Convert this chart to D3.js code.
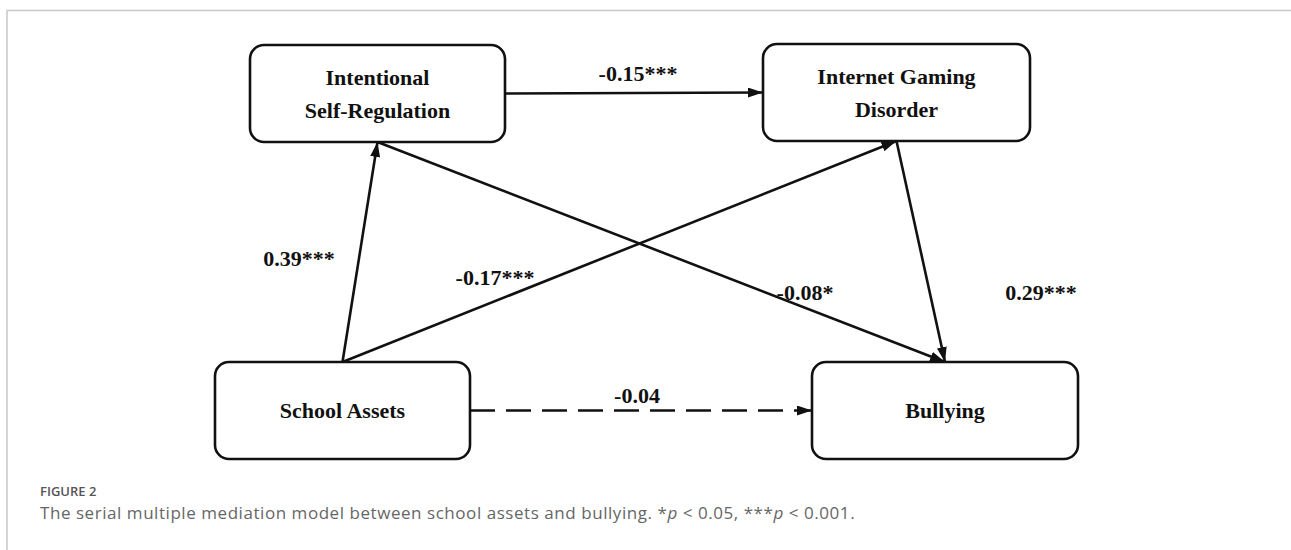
<!DOCTYPE html>
<html lang="en">
<head>
<meta charset="UTF-8">
<title>Serial mediation model</title>
<script src="https://d3js.org/d3.v7.min.js"></script>
<style>
  body { margin: 0; background: #fff; }
</style>
</head>
<body>
<svg id="chart" width="1291" height="550"></svg>
<script>
// variables in the model
const nodeIds = ["isr", "igd", "sa", "bul"];
const nodeLines = [["Intentional", "Self-Regulation"], ["Internet Gaming", "Disorder"], ["School Assets"], ["Bullying"]];

// paths: from, to, coefficient, significance, dashed?
const pathFrom = ["isr", "sa", "sa", "isr", "igd", "sa"];
const pathTo = ["igd", "isr", "igd", "bul", "bul", "bul"];
const pathCoef = ["-0.15", "0.39", "-0.17", "-0.08", "0.29", "-0.04"];
const pathStars = ["***", "***", "***", "*", "***", ""];
const pathDashed = [false, false, false, false, false, true];

const captionTitle = "FIGURE 2";
const captionText = "The serial multiple mediation model between school assets and bullying. ";

// layout (pixel positions of the boxes)
const box = {
  isr: { x0: 250, x1: 505, y0: 45, y1: 142 },
  igd: { x0: 763, x1: 1030, y0: 44, y1: 141 },
  sa: { x0: 215, x1: 470, y0: 362, y1: 459 },
  bul: { x0: 812, x1: 1078, y0: 362, y1: 459 }
};
// where each path label sits (centre x, baseline y)
const labelPos = [[638, 81], [299, 266], [495, 285], [805, 300], [1041, 300], [637, 403]];

const svg = d3.select("#chart");

// frame
svg.append("path")
  .attr("d", "M7,550 L7,10.5 L1291,10.5")
  .attr("fill", "none")
  .attr("stroke", "#c8c8c8")
  .attr("stroke-width", 1.5);

const defs = svg.append("defs");
defs.append("marker")
  .attr("id", "arrow")
  .attr("viewBox", "0 0 15 10")
  .attr("refX", 15)
  .attr("refY", 5)
  .attr("markerWidth", 15)
  .attr("markerHeight", 10)
  .attr("markerUnits", "userSpaceOnUse")
  .attr("orient", "auto")
  .append("path")
  .attr("d", "M0,0 L15,5 L0,10 Z")
  .attr("fill", "#111");

// anchor points on boxes for each path
function anchor(id, toward) {
  const b = box[id];
  const cx = (b.x0 + b.x1) / 2, cy = (b.y0 + b.y1) / 2;
  if (toward === "right") return [b.x1, cy];
  if (toward === "left") return [b.x0, cy];
  if (toward === "top") return [cx, b.y0];
  return [cx, b.y1];
}

const paths = pathFrom.map((f, i) => {
  const t = pathTo[i];
  const sameRow = (box[f].y0 < 200) === (box[t].y0 < 200);
  let p0, p1;
  if (sameRow) {
    p0 = anchor(f, "right");
    p1 = anchor(t, "left");
  } else if (box[f].y0 > box[t].y0) {
    p0 = anchor(f, "top");
    p1 = anchor(t, "bottom");
  } else {
    p0 = anchor(f, "bottom");
    p1 = anchor(t, "top");
  }
  return { p0, p1, dashed: pathDashed[i], label: pathCoef[i] + pathStars[i], lp: labelPos[i] };
});

const line = d3.line();

svg.append("g")
  .selectAll("path")
  .data(paths)
  .join("path")
  .attr("d", d => line([d.p0, d.p1]))
  .attr("fill", "none")
  .attr("stroke", "#111")
  .attr("stroke-width", 2.6)
  .attr("stroke-dasharray", d => d.dashed ? "25,11" : null)
  .attr("marker-end", "url(#arrow)");

// boxes
const nodeG = svg.append("g")
  .selectAll("g")
  .data(nodeIds)
  .join("g");

nodeG.append("rect")
  .attr("x", d => box[d].x0)
  .attr("y", d => box[d].y0)
  .attr("width", d => box[d].x1 - box[d].x0)
  .attr("height", d => box[d].y1 - box[d].y0)
  .attr("rx", 14)
  .attr("fill", "#fff")
  .attr("stroke", "#111")
  .attr("stroke-width", 2.6);

nodeG.each(function (d, i) {
  const b = box[d];
  const lines = nodeLines[i];
  const cx = (b.x0 + b.x1) / 2, cy = (b.y0 + b.y1) / 2;
  const lh = 33;
  d3.select(this).selectAll("text")
    .data(lines)
    .join("text")
    .attr("x", cx)
    .attr("y", (l, j) => cy + (j - (lines.length - 1) / 2) * lh)
    .attr("dy", "0.35em")
    .attr("text-anchor", "middle")
    .style("font-family", "'Liberation Serif', 'Times New Roman', serif")
    .style("font-weight", "bold")
    .style("font-size", "22px")
    .attr("fill", "#111")
    .text(l => l);
});

// path coefficients
svg.append("g")
  .selectAll("text")
  .data(paths)
  .join("text")
  .attr("x", d => d.lp[0])
  .attr("y", d => d.lp[1])
  .attr("text-anchor", "middle")
  .style("font-family", "'Liberation Serif', 'Times New Roman', serif")
  .style("font-weight", "bold")
  .style("font-size", "22px")
  .attr("fill", "#111")
  .text(d => d.label);

// caption
svg.append("text")
  .attr("x", 40)
  .attr("y", 496)
  .style("font-family", "'Open Sans', sans-serif")
  .style("font-weight", 600)
  .style("font-size", "13px")
  .attr("fill", "#555")
  .text(captionTitle);

const cap = svg.append("text")
  .attr("x", 40)
  .attr("y", 519)
  .style("font-family", "'Open Sans', sans-serif")
  .style("font-size", "17px")
  .style("letter-spacing", "0.55px")
  .attr("fill", "#666");
cap.append("tspan").text(captionText + "*");
cap.append("tspan").style("font-style", "italic").text("p");
cap.append("tspan").text(" < 0.05, ***");
cap.append("tspan").style("font-style", "italic").text("p");
cap.append("tspan").text(" < 0.001.");
</script>
</body>
</html>
